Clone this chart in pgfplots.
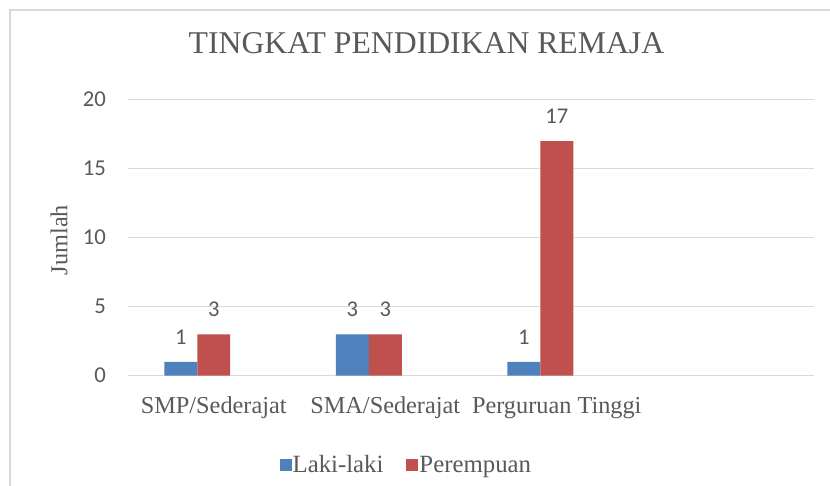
\documentclass[border=0pt]{standalone}
\usepackage{pgfplots}
\pgfplotsset{compat=1.18}
\usepackage{fontspec}
\setmainfont{Liberation Serif}
\newfontfamily\calibri{Carlito}
\definecolor{txt}{HTML}{595959}
\definecolor{gridc}{HTML}{D9D9D9}
\definecolor{blueS}{HTML}{4F81BD}
\definecolor{redS}{HTML}{C0504D}
\begin{document}
\begin{tikzpicture}[x=1pt,y=1pt]
\useasboundingbox (0,0) rectangle (830,486);
\draw[gridc, line width=2pt] (9.5,0) -- (9.5,475.7) -- (830,475.7);
\begin{axis}[
  at={(128pt,110.3pt)}, anchor=south west,
  scale only axis, width=686pt, height=276pt,
  ymin=0, ymax=20, ytick={0,5,10,15,20},
  xmin=-0.5, xmax=3.5,
  xtick={0,1,2}, xticklabels={SMP/Sederajat,SMA/Sederajat,Perguruan Tinggi},
  ybar, bar width=0.1924,
  ymajorgrids, major grid style={color=gridc, line width=1.5pt},
  axis line style={draw=none}, tick style={draw=none},
  yticklabel style={font=\calibri\fontsize{22.7}{26}\selectfont, color=txt, inner sep=0pt, anchor=east, xshift=-22pt},
  xticklabel style={font=\fontsize{24.3}{28}\selectfont, color=txt, inner sep=0pt, anchor=base, yshift=-34pt},
  /pgf/number format/assume math mode=true,
  title={TINGKAT PENDIDIKAN REMAJA},
  title style={font=\fontsize{31.7}{36}\selectfont, color=txt, at={(axis description cs:0.4351,1.1464)}, anchor=base, inner sep=0pt},
  ylabel={Jumlah},
  ylabel style={font=\fontsize{24.3}{28}\selectfont, color=txt, at={(axis description cs:-0.1006,0.4917)}, anchor=center, inner sep=0pt},
  nodes near coords,
  every node near coord/.append style={font=\calibri\fontsize{22.5}{26}\selectfont, color=txt, inner sep=0pt, anchor=south, yshift=17pt},
  legend columns=2,
  legend style={draw=none, at={(axis description cs:0.405,-0.3236)}, anchor=center,
    font=\fontsize{24.8}{28}\selectfont, text=txt, nodes={inner sep=1pt},
    /tikz/every even column/.append style={column sep=22pt}},
  legend image code/.code={\fill[#1] (0pt,-6pt) rectangle (12pt,6pt);},
]
\addplot[fill=blueS, draw=none, bar shift=-0.1924] coordinates {(0,1) (1,3) (2,1)};
\addplot[fill=redS, draw=none, bar shift=0] coordinates {(0,3) (1,3) (2,17)};
\legend{Laki-laki,Perempuan}
\end{axis}
\end{tikzpicture}
\end{document}
